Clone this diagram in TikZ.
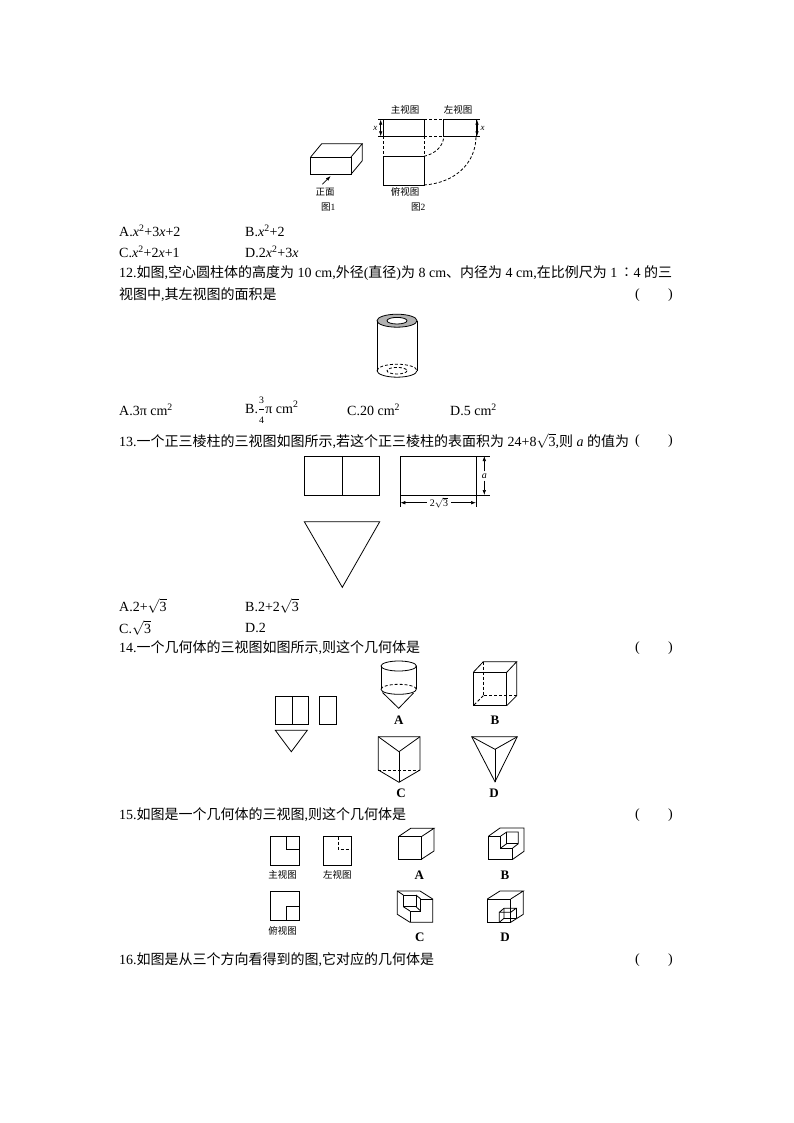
\documentclass[tikz,border=0pt]{standalone}
\usepackage{fontspec}
\usepackage{amsmath}
\setmainfont{Liberation Serif}
\newfontfamily\cjk{Noto Sans CJK SC}
\newcommand{\zh}[1]{{\cjk #1}}
\newcommand{\ix}{\textit{x}}
\newcommand{\rootthree}{$\sqrt{\text{3}}$}
\usetikzlibrary{arrows,arrows.meta}
\tikzstyle{edge} = [draw,line width=0.8pt,-]
\tikzstyle{hidden} = [draw,line width=0.8pt,dash pattern=on 3pt off 2pt]
\tikzstyle{dimarrow} = [draw,line width=0.6pt,-{Latex[length=5pt,width=3.5pt]}]
\tikzstyle{dimline} = [draw,line width=0.6pt,{Latex[length=5pt,width=3.5pt]}-{Latex[length=5pt,width=3.5pt]}]
\tikzstyle{txt} = [anchor=west,inner sep=0pt,font=\fontsize{14}{16}\selectfont]
\tikzstyle{caption} = [inner sep=0pt,font=\fontsize{9.5}{11}\selectfont]
\tikzstyle{letter} = [inner sep=0pt,font=\fontsize{13}{15}\selectfont\bfseries]
\begin{document}
\begin{tikzpicture}[x=1pt,y=-1pt]
    \useasboundingbox (0,0) rectangle (794,1123);

    % First the lines of text
    \node[txt] (optA11) at (119,231) {A.\ix\textsuperscript{2}+3\ix+2};
    \node[txt] (optB11) at (245,231) {B.\ix\textsuperscript{2}+2};
    \node[txt] (optC11) at (119,252) {C.\ix\textsuperscript{2}+2\ix+1};
    \node[txt] (optD11) at (245,252) {D.2\ix\textsuperscript{2}+3\ix};
    \node[txt] (q12a) at (119,273) {12.\zh{如图},\zh{空心圆柱体的高度为} 10 cm,\zh{外径}(\zh{直径})\zh{为} 8 cm\zh{、内径为} 4 cm,\zh{在比例尺为} 1\,\zh{∶}4 \zh{的三}};
    \node[txt] (q12b) at (119,295) {\zh{视图中},\zh{其左视图的面积是}};
    \node[txt] (optA12) at (119,410) {A.3π cm\textsuperscript{2}};
    \node[txt] (optB12) at (245,410) {B.$\genfrac{}{}{0.4pt}{0}{\scriptstyle\text{3}}{\scriptstyle\text{4}}$π cm\textsuperscript{2}};
    \node[txt] (optC12) at (347,410) {C.20 cm\textsuperscript{2}};
    \node[txt] (optD12) at (450,410) {D.5 cm\textsuperscript{2}};
    \node[txt] (q13) at (119,441) {13.\zh{一个正三棱柱的三视图如图所示},\zh{若这个正三棱柱的表面积为} 24+8\rootthree,\zh{则} \textit{a} \zh{的值为}};
    \node[txt] (optA13) at (119,606) {A.2+\rootthree};
    \node[txt] (optB13) at (245,606) {B.2+2\rootthree};
    \node[txt] (optC13) at (119,628) {C.\rootthree};
    \node[txt] (optD13) at (245,628) {D.2};
    \node[txt] (q14) at (119,648) {14.\zh{一个几何体的三视图如图所示},\zh{则这个几何体是}};
    \node[txt] (q15) at (119,815) {15.\zh{如图是一个几何体的三视图},\zh{则这个几何体是}};
    \node[txt] (q16) at (119,960) {16.\zh{如图是从三个方向看得到的图},\zh{它对应的几何体是}};
    \foreach \name/\ypos in {p12/295, p13/441, p14/648, p15/815, p16/960}{
        \node[txt] (\name l) at (635,\ypos) {(};
        \node[txt,anchor=east] (\name r) at (673,\ypos) {)};
    }

    % Figure above question 11: block and its three views
    \coordinate (b1) at (310.7,157);
    \coordinate (b2) at (351,157);
    \coordinate (b3) at (351,174.3);
    \coordinate (b4) at (310.7,174.3);
    \coordinate (b5) at (321.7,143.7);
    \coordinate (b6) at (362.3,143.7);
    \coordinate (b7) at (362.3,160.7);
    \path[edge] (b1) -- (b2) -- (b3) -- (b4) -- cycle;
    \path[edge] (b1) -- (b5) -- (b6) -- (b2);
    \path[edge] (b6) -- (b7) -- (b3);
    \coordinate (arrowtail) at (322.3,184.3);
    \coordinate (arrowhead) at (330.7,176);
    \path[dimarrow] (arrowtail) -- (arrowhead);
    \node[caption] (front) at (325,192.7) {\zh{正面}};
    \node[caption] (figone) at (328.3,207.3) {\zh{图}1};
    \node[caption] (mainview) at (405,110) {\zh{主视图}};
    \node[caption] (leftview) at (458,110) {\zh{左视图}};
    \node[caption] (topview) at (405,192.3) {\zh{俯视图}};
    \node[caption] (figtwo) at (418.3,207.3) {\zh{图}2};
    \coordinate (m1) at (383.3,119.7);
    \coordinate (m2) at (424,119.7);
    \coordinate (m3) at (424,136.3);
    \coordinate (m4) at (383.3,136.3);
    \coordinate (l1) at (443.7,119.7);
    \coordinate (l2) at (476,119.7);
    \coordinate (l3) at (476,136.3);
    \coordinate (l4) at (443.7,136.3);
    \coordinate (t1) at (383.3,156.3);
    \coordinate (t2) at (424,156.3);
    \coordinate (t3) at (424,185);
    \coordinate (t4) at (383.3,185);
    \path[edge] (m1) -- (m2) -- (m3) -- (m4) -- cycle;
    \path[edge] (l1) -- (l2) -- (l3) -- (l4) -- cycle;
    \path[edge] (t1) -- (t2) -- (t3) -- (t4) -- cycle;
    \path[hidden] (m2) -- (l1);
    \path[hidden] (m3) -- (l4);
    \path[hidden] (m4) -- (t1);
    \path[hidden] (m3) -- (t2);
    \path[hidden] (t2) .. controls (435,154) and (443.7,146) .. (l4);
    \path[hidden] (t3) .. controls (455,183) and (476,163) .. (l3);
    \coordinate (xl1) at (380.7,119.7);
    \coordinate (xl2) at (380.7,136.3);
    \coordinate (xr1) at (477,119.7);
    \coordinate (xr2) at (477,136.3);
    \path[dimline] (xl1) -- (xl2);
    \path[dimline] (xr1) -- (xr2);
    \draw[line width=0.5pt] (378,119.7) -- (m1) (378,136.3) -- (m4) (l2) -- (480,119.7) (l3) -- (480,136.3);
    \node[caption,font=\fontsize{9}{9}\selectfont\itshape] (xleft) at (375.3,128.3) {x};
    \node[caption,font=\fontsize{9}{9}\selectfont\itshape] (xright) at (482.5,128.3) {x};

    % Hollow cylinder of question 12
    \path[edge,fill=black!30] (397,320.7) ellipse [x radius=20,y radius=6.5];
    \path[edge,fill=white] (397,320.7) ellipse [x radius=10,y radius=3.3];
    \coordinate (c1) at (377,320.7);
    \coordinate (c2) at (417,320.7);
    \coordinate (c3) at (377,370.7);
    \coordinate (c4) at (417,370.7);
    \path[edge] (c1) -- (c3);
    \path[edge] (c2) -- (c4);
    \path[edge] (c3) arc [start angle=180,end angle=0,x radius=20,y radius=6.5];
    \path[hidden] (c3) arc [start angle=180,end angle=360,x radius=20,y radius=6.5];
    \path[hidden] (397,370.7) ellipse [x radius=10,y radius=3.3];

    % Three views of question 13
    \path[edge] (304.3,456) rectangle (379.7,495);
    \path[edge] (342.3,456) -- (342.3,495);
    \path[edge] (400.3,456) rectangle (476,495);
    \draw[line width=0.5pt] (476,456) -- (490,456) (476,495) -- (490,495) (400.3,495) -- (400.3,507) (476,495) -- (476,507);
    \node[inner sep=2pt,font=\fontsize{10}{10}\selectfont\itshape] (dima) at (484.3,476) {a};
    \node[inner sep=3pt,font=\fontsize{10}{10}\selectfont] (dimb) at (439,502.7) {2\rootthree};
    \coordinate (a1) at (484.3,456);
    \coordinate (a2) at (484.3,495);
    \coordinate (w1) at (400.3,502.7);
    \coordinate (w2) at (476,502.7);
    \path[dimarrow] (dima) -- (a1);
    \path[dimarrow] (dima) -- (a2);
    \path[dimarrow] (dimb) -- (w1);
    \path[dimarrow] (dimb) -- (w2);
    \path[edge] (304.3,521.7) -- (379.7,521.7) -- (342.3,587.3) -- cycle;

    % Views of question 14
    \path[edge] (275.7,696.3) rectangle (308.7,724.3);
    \path[edge] (292,696.3) -- (292,724.3);
    \path[edge] (319.3,696.3) rectangle (336.3,724.3);
    \path[edge] (275.3,730.3) -- (307.3,730.3) -- (291.3,751.7) -- cycle;

    % Solid A: cylinder on a cone
    \path[edge] (398.7,666) ellipse [x radius=17.7,y radius=5];
    \path[edge] (381,666) -- (381,689.3);
    \path[edge] (416.4,666) -- (416.4,689.3);
    \path[edge] (381,689.3) arc [start angle=180,end angle=0,x radius=17.7,y radius=5];
    \path[hidden] (381,689.3) arc [start angle=180,end angle=360,x radius=17.7,y radius=5];
    \path[edge] (382.5,692.5) -- (398.7,708.3) -- (413.5,693);
    \node[letter] (lblA14) at (398.7,720.7) {A};

    % Solid B: box with hidden edges
    \path[edge] (473.3,672.3) rectangle (506.7,705.7);
    \path[edge] (473.3,672.3) -- (483.3,661.7) -- (516.7,661.7) -- (506.7,672.3);
    \path[edge] (516.7,661.7) -- (516.7,695.7) -- (506.7,705.7);
    \path[hidden] (483.3,661.7) -- (483.3,695.7) -- (516.7,695.7);
    \path[hidden] (483.3,695.7) -- (473.3,705.7);
    \node[letter] (lblB14) at (495,720.7) {B};

    % Solid C: three sided prism
    \coordinate (p1) at (378.3,736.7);
    \coordinate (p2) at (420,736.7);
    \coordinate (p3) at (399,751.7);
    \coordinate (p4) at (399,782.3);
    \coordinate (p5) at (378.3,770);
    \coordinate (p6) at (420,770);
    \path[edge] (p1) -- (p2) -- (p6) -- (p4) -- (p5) -- cycle;
    \path[edge] (p1) -- (p3) -- (p2);
    \path[edge] (p3) -- (p4);
    \path[hidden] (p5) -- (p6);
    \node[letter] (lblC14) at (401,793.5) {C};

    % Solid D: pyramid
    \coordinate (s1) at (471.7,736.7);
    \coordinate (s2) at (517.3,736.7);
    \coordinate (s3) at (495,749.3);
    \coordinate (s4) at (495,781.7);
    \path[edge] (s1) -- (s2) -- (s4) -- cycle;
    \path[edge] (s1) -- (s3) -- (s2);
    \path[edge] (s3) -- (s4);
    \node[letter] (lblD14) at (494,793.5) {D};

    % Views of question 15
    \path[edge] (270.7,836.7) rectangle (299.3,865);
    \path[edge] (286.3,836.7) -- (286.3,849.3) -- (299.3,849.3);
    \path[edge] (323.3,836.7) rectangle (351.7,865);
    \path[hidden,line width=0.7pt] (338.3,836.7) -- (338.3,849.3) -- (351.7,849.3);
    \path[edge] (270.7,891.3) rectangle (299.3,920);
    \path[edge] (286.3,920) -- (286.3,906.7) -- (299.3,906.7);
    \node[caption] (front15) at (282.7,875) {\zh{主视图}};
    \node[caption] (left15) at (337.3,875) {\zh{左视图}};
    \node[caption] (top15) at (282.7,930.7) {\zh{俯视图}};

    % Solid A: plain cube
    \path[edge] (398.3,836.7) rectangle (421.3,859.3);
    \path[edge] (398.3,836.7) -- (410.7,828.3) -- (434,828.3) -- (421.3,836.7);
    \path[edge] (434,828.3) -- (434,851) -- (421.3,859.3);
    \node[letter] (lblA15) at (419.3,875) {A};

    % Solid B: cube with a corner cut out at the top
    \path[edge] (488.7,836) -- (500.7,836) -- (500.7,848) -- (512.7,848) -- (512.7,859.3) -- (488.7,859.3) -- cycle;
    \path[edge] (488.7,836) -- (500,828) -- (524,828) -- (524,851.3) -- (512.7,859.3);
    \path[edge] (500.7,836) -- (506.7,832) -- (518.3,832) -- (518.3,843.7) -- (512.7,848);
    \path[edge] (506.7,832) -- (506.7,843.7) -- (518.3,843.7);
    \path[edge] (500.7,848) -- (506.7,843.7);
    \node[letter] (lblB15) at (505,875) {B};

    % Solid C: cube with a hollow near the top corner
    \path[edge] (397.3,891) -- (420,891) -- (432.7,899) -- (432.7,922.3) -- (410,922.3) -- (397.3,914.3) -- cycle;
    \path[edge] (410,922.3) -- (410,911) -- (420.7,911) -- (420.7,899) -- (432.7,899);
    \path[edge] (403.3,895) -- (416,895) -- (416,906.7) -- (403.3,906.7) -- cycle;
    \path[edge] (397.3,891) -- (403.3,895);
    \path[edge] (416,895) -- (420.7,899);
    \path[edge] (416,906.7) -- (420.7,911);
    \path[edge] (403.3,906.7) -- (410,911);
    \node[letter] (lblC15) at (419.7,937) {C};

    % Solid D: cube with a notch at the foot
    \path[edge] (487.3,899) rectangle (510.7,922.3);
    \path[edge] (487.3,899) -- (500,891) -- (523.3,891) -- (510.7,899);
    \path[edge] (523.3,891) -- (523.3,914.3) -- (510.7,922.3);
    \path[edge] (499.3,922.3) -- (499.3,912.3) -- (510.7,912.3) -- (516,908.3) -- (504,908.3) -- (499.3,912.3);
    \path[edge] (504,908.3) -- (504,918.3) -- (499.3,922.3);
    \path[edge] (504,918.3) -- (516,918.3);
    \path[edge] (516,908.3) -- (516,918.3);
    \node[letter] (lblD15) at (505,937) {D};
\end{tikzpicture}
\end{document}
